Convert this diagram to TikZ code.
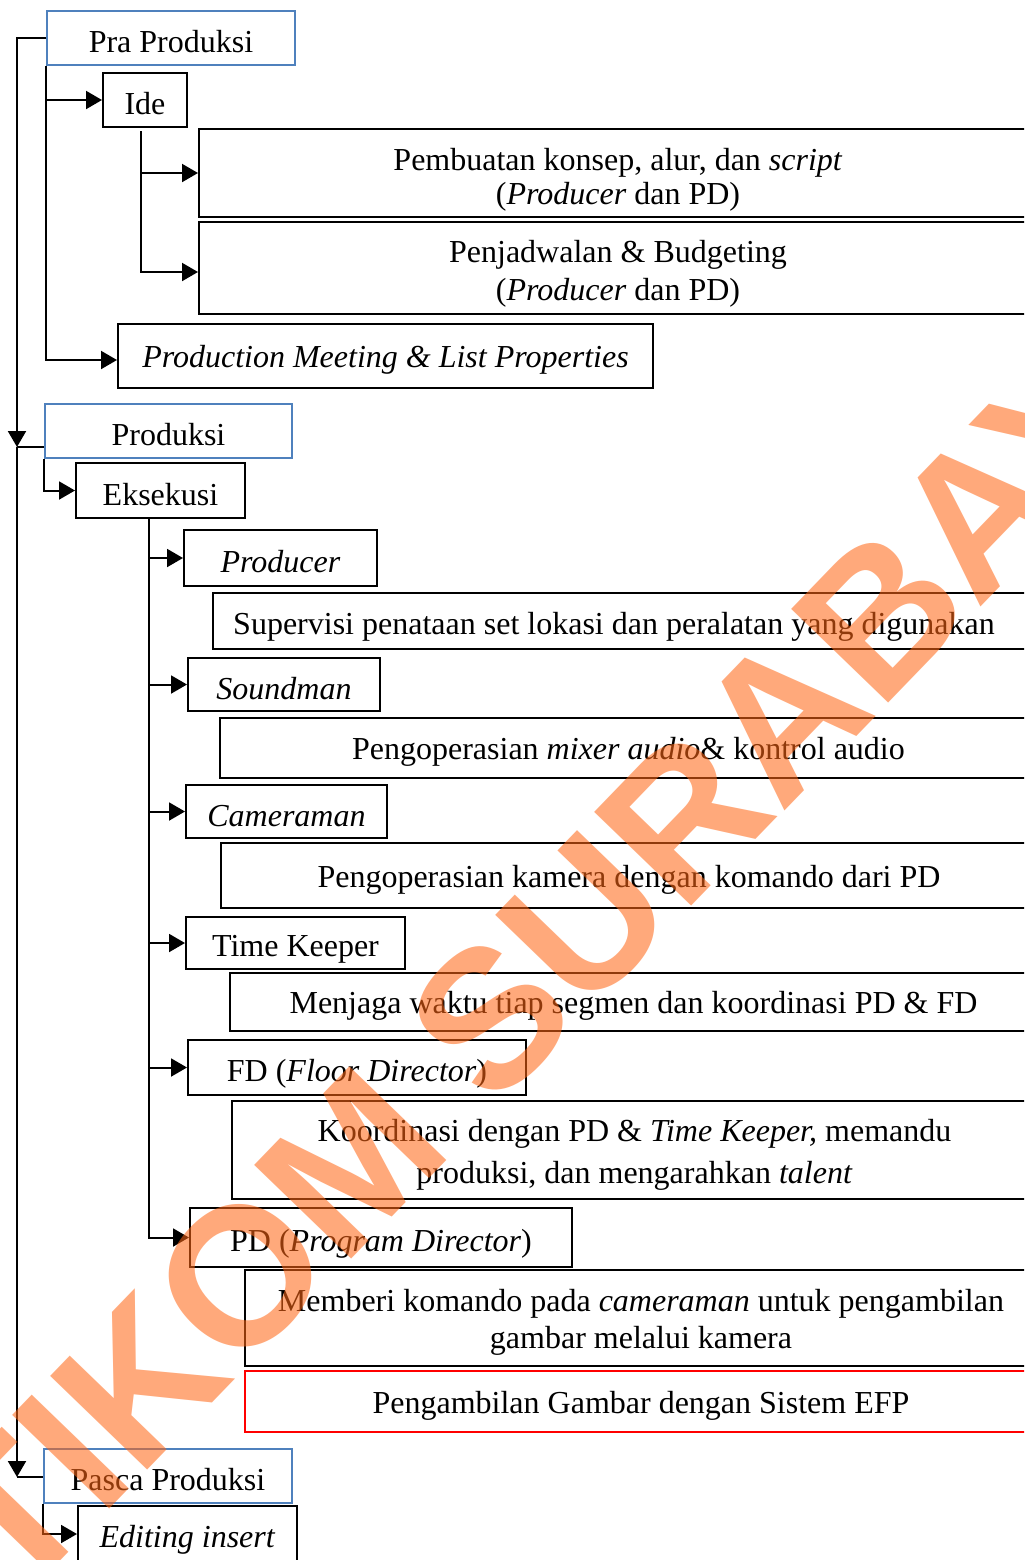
\documentclass[tikz,border=0pt]{standalone}
\usepackage{fontspec}
\setmainfont{Liberation Serif}
\newfontfamily\wmfont{Liberation Sans}
\usetikzlibrary{arrows.meta}
\definecolor{boxblue}{RGB}{79,129,189}
\definecolor{wmorange}{RGB}{255,102,20}
\definecolor{efpred}{RGB}{255,0,0}
\begin{document}
\begin{tikzpicture}[x=0.5pt,y=-0.5pt,
  every node/.style={font=\fontsize{16}{18.5}\selectfont},
  box/.style={draw=black, line width=1pt, inner sep=0pt, align=center,
    execute at begin node={\rule{0pt}{15pt}}},
  bluebox/.style={box, draw=boxblue, line width=0.8pt},
  redbox/.style={box, draw=efpred, line width=0.8pt},
  arr/.style={-{Triangle[length=8pt,width=9pt]}, line width=1pt},
  conn/.style={line width=1pt}]
\useasboundingbox (0,0) rectangle (1024,1560);
\clip (0,0) rectangle (1024,1560);
\fill[white] (0,0) rectangle (1024,1560);

% boxes
\node[bluebox, minimum width=124pt, minimum height=27pt] (pra) at (171,38) {Pra Produksi};
\node[box, minimum width=42pt, minimum height=27pt] (ide) at (145,100) {Ide};
\node[box, minimum width=419pt, minimum height=44pt] (pk) at (618,173) {\rule{0pt}{18pt}Pembuatan konsep, alur, dan \textit{script}\\[-1.5pt](\textit{Producer} dan PD)};
\node[box, minimum width=419pt, minimum height=46pt] (pj) at (618,268) {\rule{0pt}{17pt}Penjadwalan \& Budgeting\\[0.5pt](\textit{Producer} dan PD)};
\node[box, minimum width=267.5pt, minimum height=32pt] (pm) at (385.5,356) {\textit{Production Meeting \& List Properties}};

\node[bluebox, minimum width=123.5pt, minimum height=27pt] (prod) at (168.5,431) {Produksi};
\node[box, minimum width=84.5pt, minimum height=27.5pt] (eks) at (160.5,490.5) {Eksekusi};
\node[box, minimum width=96.5pt, minimum height=28pt] (producer) at (280.5,558) {\textit{Producer}};
\node[box, minimum width=412pt, minimum height=28pt] (sup) at (625,621) {\rule{0pt}{17pt}Supervisi penataan set lokasi dan peralatan yang digunakan\hspace*{11pt}};
\node[box, minimum width=96pt, minimum height=26.5pt] (sound) at (284,684.5) {\textit{Soundman}};
\node[box, minimum width=408.5pt, minimum height=30pt] (mix) at (628.5,748) {Pengoperasian \textit{mixer audio}\& kontrol audio};
\node[box, minimum width=100.5pt, minimum height=26.5pt] (cam) at (286.5,811.5) {\textit{Cameraman}};
\node[box, minimum width=408pt, minimum height=32.5pt] (kam) at (629,875.5) {Pengoperasian kamera dengan komando dari PD};
\node[box, minimum width=109.5pt, minimum height=26pt] (tk) at (295.5,943) {\rule{0pt}{17pt}Time Keeper};
\node[box, minimum width=403.5pt, minimum height=29pt] (jaga) at (633.5,1002) {Menjaga waktu tiap segmen dan koordinasi PD \& FD};
\node[box, minimum width=169pt, minimum height=27.5pt] (fd) at (357,1067.5) {\rule{0pt}{17pt}FD (\textit{Floor Director})};
\node[box, minimum width=402.5pt, minimum height=49pt] (koor) at (634.5,1150) {\rule{0pt}{16pt}Koordinasi dengan PD \& \textit{Time Keeper,} memandu\\[2.5pt]produksi, dan mengarahkan \textit{talent}};
\node[box, minimum width=191pt, minimum height=29.5pt] (pd) at (381,1237.5) {\rule{0pt}{17pt}PD (\textit{Program Director})};
\node[box, minimum width=396pt, minimum height=48pt] (beri) at (641,1318) {\rule{0pt}{15.5pt}Memberi komando pada \textit{cameraman} untuk pengambilan\\gambar melalui kamera};
\node[redbox, minimum width=396pt, minimum height=30.5pt] (ambil) at (641,1401.5) {Pengambilan Gambar dengan Sistem EFP};

\node[bluebox, minimum width=124pt, minimum height=27pt] (pasca) at (168,1476) {Pasca Produksi};
\node[box, minimum width=109.5pt, minimum height=28pt] (edit) at (187.5,1534) {\rule{0pt}{17pt}\textit{Editing insert}};

% connectors
\coordinate (c1) at (17,447);
\coordinate (c2) at (17,1477);
\draw[arr] (pra.west) -| (c1);
\draw[conn] (c1) -- (prod.west |- c1);
\draw[arr] (c1) -- (c2);
\draw[conn] (c2) -- (pasca.west |- c2);

\draw[arr] (pra.south west) |- (ide.west);
\draw[arr] (pra.south west) |- ([yshift=-2pt]pm.west);

\coordinate (i0) at (141,131);
\draw[arr] (i0) |- (pk.west);
\draw[arr] (i0) |- ([yshift=-2pt]pj.west);

\draw[arr] (prod.south west) |- (eks.west);
\coordinate (e0) at (149,518);
\foreach \n in {producer,sound,cam,tk,fd,pd} \draw[arr] (e0) |- (\n.west);

\draw[arr] (pasca.south west) |- (edit.west);

% watermark
\node[font=\wmfont\bfseries\fontsize{98}{98}\selectfont, text=wmorange, opacity=0.56,
  rotate=46, inner sep=0pt, anchor=center] (wm) at (535,972) {STIKOM SURABAYA};
\end{tikzpicture}
\end{document}
